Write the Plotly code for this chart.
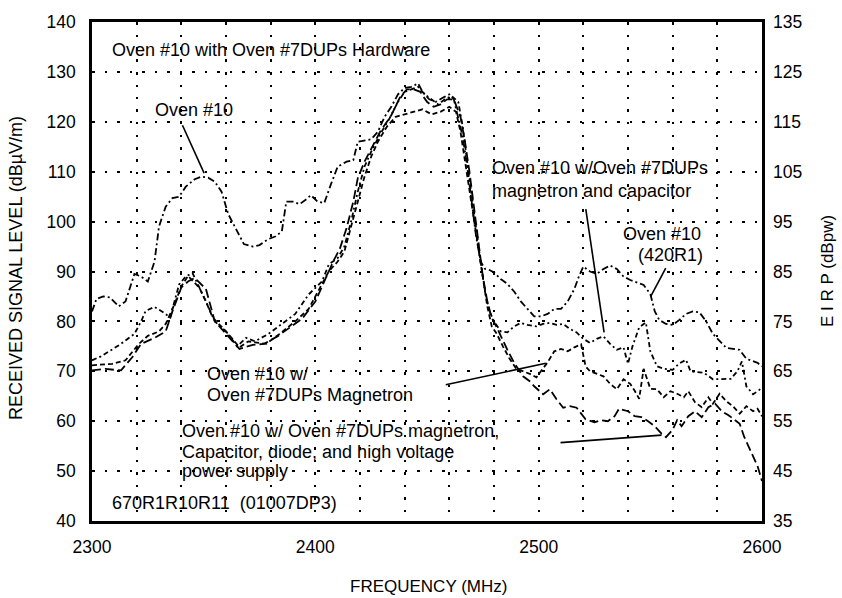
import plotly.graph_objects as go

# ---- Measured field strength vs. frequency (dBuV/m) ----
# Oven #10 alone
freq_oven10 = [2300, 2302, 2305, 2308, 2312, 2315, 2319, 2322, 2325, 2328,
               2330, 2333, 2336, 2339, 2342, 2346, 2349, 2352, 2355, 2358,
               2361, 2364, 2368, 2372, 2375, 2379, 2382, 2385, 2387, 2390,
               2393, 2396, 2398, 2401, 2404, 2407, 2410, 2414, 2417, 2419,
               2422, 2425, 2428, 2431, 2434, 2437, 2440, 2443, 2446, 2448,
               2451, 2454, 2457, 2460, 2462, 2464, 2466, 2468, 2470, 2472,
               2474, 2476, 2478, 2480, 2483, 2486, 2489, 2492, 2495, 2498,
               2501, 2504, 2507, 2510, 2513, 2516, 2518, 2520, 2523, 2526,
               2529, 2532, 2535, 2538, 2541, 2544, 2547, 2550, 2552, 2554,
               2557, 2560, 2563, 2566, 2569, 2572, 2575, 2578, 2581, 2584,
               2587, 2590, 2593, 2596, 2598, 2600]
level_oven10 = [82.0, 84.5, 85.0, 84.8, 83.0, 84.0, 89.5, 89.0, 88.0, 92.0,
                99.0, 103.0, 104.7, 105.0, 107.0, 108.5, 109.0, 108.8, 108.0, 106.0,
                101.5, 99.0, 95.5, 95.0, 95.3, 96.5, 97.0, 98.0, 104.0, 104.0,
                103.5, 104.5, 105.3, 104.0, 103.7, 107.5, 111.0, 112.0, 112.3, 116.0,
                116.3, 116.5, 118.0, 121.0, 123.0, 125.5, 126.8, 127.0, 127.7, 126.0,
                124.5, 124.0, 124.8, 125.5, 124.5, 121.0, 117.0, 111.0, 104.0, 97.0,
                92.0, 90.5, 90.3, 89.8, 88.5, 87.5, 86.0, 84.0, 82.5, 81.0,
                81.0, 81.5, 82.5, 82.5, 84.0, 86.5, 89.0, 91.0, 90.0, 89.5,
                90.5, 91.2, 90.5, 89.0, 88.3, 87.8, 87.3, 85.5, 82.0, 80.3,
                79.5, 79.3, 80.3, 81.5, 82.0, 81.8, 80.0, 77.5, 76.0, 74.7,
                74.5, 74.3, 72.5, 72.0, 71.7, 71.0]

# Oven #10 with Oven #7DUPs magnetron and capacitor
freq_mag_cap = [2300, 2304, 2308, 2313, 2319, 2322, 2324, 2328, 2332, 2335,
                2339, 2342, 2345, 2348, 2351, 2355, 2360, 2365, 2369, 2373,
                2379, 2385, 2391, 2397, 2403, 2406, 2410, 2413, 2416, 2419,
                2422, 2425, 2429, 2433, 2437, 2440, 2443, 2446, 2449, 2452,
                2455, 2458, 2461, 2464, 2466, 2468, 2470, 2472, 2474, 2476,
                2478, 2480, 2483, 2486, 2489, 2492, 2495, 2499, 2502, 2505,
                2508, 2511, 2514, 2517, 2520, 2523, 2526, 2529, 2532, 2535,
                2538, 2540, 2542, 2545, 2548, 2550, 2553, 2556, 2560, 2563,
                2566, 2568, 2571, 2574, 2578, 2582, 2586, 2589, 2591, 2593,
                2596, 2598, 2600]
level_mag_cap = [72.2, 73.0, 74.1, 75.5, 77.5, 80.0, 82.1, 82.9, 81.8, 80.8,
                 87.4, 89.0, 89.7, 87.0, 84.0, 80.0, 78.0, 75.0, 76.7, 76.0,
                 77.5, 79.5, 81.5, 85.4, 88.0, 91.4, 92.7, 95.0, 100.0, 106.0,
                 111.0, 114.0, 117.5, 120.5, 124.0, 126.0, 126.5, 127.0, 125.5, 124.5,
                 123.5, 124.5, 125.2, 124.0, 119.0, 112.0, 105.0, 99.0, 92.0, 86.0,
                 82.0, 80.0, 78.0, 77.8, 79.0, 79.7, 79.3, 79.0, 79.5, 79.7,
                 79.3, 79.5, 78.5, 77.8, 76.5, 75.7, 76.5, 77.0, 75.5, 74.3,
                 74.8, 71.5, 75.0, 78.8, 79.8, 74.0, 71.0, 70.5, 70.3, 71.6,
                 72.3, 70.0, 69.8, 69.7, 68.4, 68.5, 68.5, 70.0, 72.0, 67.0,
                 65.4, 66.0, 66.7]

# Oven #10 with Oven #7DUPs magnetron
freq_mag = [2300, 2305, 2309, 2315, 2321, 2325, 2330, 2333, 2337, 2340,
            2343, 2348, 2351, 2354, 2358, 2361, 2366, 2370, 2373, 2378,
            2384, 2391, 2397, 2402, 2406, 2410, 2413, 2416, 2419, 2422,
            2425, 2428, 2432, 2436, 2440, 2444, 2448, 2452, 2456, 2460,
            2463, 2465, 2467, 2469, 2471, 2473, 2475, 2477, 2479, 2481,
            2484, 2487, 2490, 2493, 2496, 2499, 2502, 2504, 2507, 2510,
            2513, 2516, 2519, 2521, 2523, 2526, 2529, 2532, 2535, 2538,
            2541, 2543, 2545, 2547, 2550, 2553, 2556, 2559, 2562, 2565,
            2567, 2570, 2573, 2576, 2578, 2581, 2584, 2587, 2590, 2593,
            2596, 2598, 2600]
level_mag = [71.2, 71.3, 71.5, 72.2, 75.5, 77.1, 78.0, 79.5, 83.5, 87.0,
             89.1, 86.8, 84.0, 80.8, 79.0, 77.5, 74.8, 76.0, 75.8, 75.5,
             77.5, 80.0, 82.5, 86.5, 90.0, 92.0, 94.0, 99.0, 104.0, 109.0,
             113.0, 116.0, 119.0, 121.0, 121.5, 122.0, 122.5, 121.5, 122.0, 123.0,
             122.0, 118.0, 112.0, 106.0, 100.0, 94.0, 88.0, 83.0, 79.0, 77.7,
             75.0, 72.5, 70.5, 70.0, 69.5, 68.8, 70.5, 71.8, 74.0, 74.5,
             74.0, 74.8, 75.4, 71.0, 70.0, 69.5, 69.0, 67.5, 66.4, 68.4,
             67.5, 66.1, 64.5, 70.5, 66.5, 66.4, 64.8, 66.0, 65.5, 64.8,
             66.0, 63.8, 62.8, 64.8, 63.5, 65.5, 64.0, 63.0, 61.5, 63.0,
             62.0, 62.5, 61.0]

# Oven #10 with Oven #7DUPs magnetron, capacitor, diode and HV supply
freq_full = [2300, 2303, 2306, 2310, 2313, 2318, 2322, 2328, 2333, 2336,
             2340, 2343, 2346, 2351, 2355, 2361, 2366, 2372, 2377, 2383,
             2389, 2394, 2400, 2404, 2408, 2411, 2414, 2417, 2419, 2422,
             2425, 2429, 2434, 2438, 2441, 2444, 2447, 2450, 2453, 2456,
             2459, 2462, 2465, 2467, 2469, 2471, 2473, 2475, 2477, 2479,
             2481, 2483, 2486, 2489, 2491, 2493, 2496, 2498, 2502, 2505,
             2508, 2511, 2514, 2517, 2521, 2525, 2528, 2531, 2534, 2536,
             2540, 2543, 2546, 2549, 2552, 2555, 2557, 2560, 2562, 2564,
             2567, 2570, 2573, 2576, 2579, 2582, 2585, 2587, 2590, 2592,
             2594, 2596, 2598, 2599, 2600]
level_full = [70.2, 70.4, 70.5, 70.3, 70.2, 72.8, 75.5, 76.7, 78.0, 82.0,
              86.8, 88.0, 88.7, 86.5, 80.0, 77.0, 74.5, 75.3, 75.5, 77.0,
              79.0, 80.5, 84.0, 88.0, 92.0, 94.6, 98.7, 104.0, 108.7, 112.0,
              114.7, 118.0, 121.3, 125.0, 126.5, 126.5, 126.0, 124.0, 123.0, 123.5,
              124.5, 124.5, 121.0, 116.0, 110.0, 103.0, 96.0, 89.0, 84.0, 80.7,
              79.0, 77.0, 74.3, 71.7, 70.4, 69.0, 68.0, 67.0, 65.4, 66.4,
              64.4, 62.7, 63.0, 62.7, 60.4, 59.8, 60.2, 60.0, 61.0, 62.5,
              62.0, 61.0, 60.8, 60.0, 59.0, 57.5, 56.8, 58.3, 60.2, 59.0,
              61.0, 62.0, 60.8, 62.8, 63.5, 62.0, 61.2, 60.5, 59.5, 56.9,
              55.0, 53.0, 51.0, 49.5, 48.0]

# Axis ticks
x_ticks = [2300, 2400, 2500, 2600]
left_ticks = [40, 50, 60, 70, 80, 90, 100, 110, 120, 130, 140]
right_ticks = [35, 45, 55, 65, 75, 85, 95, 105, 115, 125, 135]

FONT = "Liberation Sans, Arial, Helvetica, sans-serif"
INK = "black"

fig = go.Figure()

series = [
    (freq_oven10, level_oven10, "7px,3px,2px,3px"),
    (freq_mag_cap, level_mag_cap, "5px,3px,2px,3px"),
    (freq_mag, level_mag, "5px,3px"),
    (freq_full, level_full, "9px,4px"),
]
for fx, fy, dash in series:
    fig.add_trace(go.Scatter(
        x=fx, y=fy, mode="lines",
        line=dict(color=INK, width=1.8, dash=dash),
        showlegend=False, hoverinfo="skip",
    ))

# empty trace so the right-hand EIRP axis is laid out
fig.add_trace(go.Scatter(x=[None], y=[None], yaxis="y2", mode="lines",
                         showlegend=False, hoverinfo="skip"))

# ---- pointer lines from labels to curves (data coordinates) ----
pointers = [
    ((2340.5, 119.3), (2350.2, 109.7)),   # Oven #10
    ((2521.1, 102.5), (2529.3, 77.8)),    # magnetron and capacitor
    ((2556.9, 90.7), (2550.2, 85.0)),     # Oven #10 (420R1)
    ((2458.4, 67.3), (2503.2, 71.6)),     # magnetron
    ((2509.8, 55.7), (2555.0, 57.2)),     # full hardware set
]
for (x0, y0), (x1, y1) in pointers:
    fig.add_shape(type="line", xref="x", yref="y", x0=x0, y0=y0, x1=x1, y1=y1,
                  line=dict(color=INK, width=1.6))

# ---- text labels (pixel positions converted to paper coords) ----
L, R, T, B, W, H = 92, 80, 18, 77, 842, 598
PW, PH = W - L - R, H - T - B


def px(xp):
    return (xp - L) / PW


def py(yp):
    return (H - B - yp) / PH


labels = [
    ("Oven #10 with Oven #7DUPs Hardware", 110, 46, "left"),
    ("Oven #10", 153, 107, "left"),
    ("Oven #10 w/Oven #7DUPs", 490, 165, "left"),
    ("magnetron and capacitor", 490, 188, "left"),
    ("Oven #10", 703, 232, "right"),
    ("(420R1)", 705, 253, "right"),
    ("Oven #10 w/", 205, 373, "left"),
    ("Oven #7DUPs Magnetron", 205, 394, "left"),
    ("Oven #10 w/ Oven #7DUPs magnetron,", 180, 430, "left"),
    ("Capacitor, diode, and high voltage", 180, 451, "left"),
    ("power supply", 180, 471, "left"),
    ("670R1R10R11  (01007DP3)", 110, 503, "left"),
]
for text, xp, yp, anchor in labels:
    fig.add_annotation(text=text, xref="paper", yref="paper",
                       x=px(xp), y=py(yp), xanchor=anchor, yanchor="middle",
                       showarrow=False, font=dict(family=FONT, size=18, color=INK))

# axis titles
fig.add_annotation(text="FREQUENCY (MHz)", xref="paper", yref="paper",
                   x=px(428), y=py(587), xanchor="center", yanchor="middle",
                   showarrow=False, font=dict(family=FONT, size=17, color=INK))
fig.add_annotation(text="RECEIVED SIGNAL LEVEL (dBµV/m)", xref="paper", yref="paper",
                   x=px(16), y=py(266), xanchor="center", yanchor="middle",
                   textangle=-90, showarrow=False,
                   font=dict(family=FONT, size=18, color=INK))
fig.add_annotation(text="E I R P (dBpw)", xref="paper", yref="paper",
                   x=px(827), y=py(269), xanchor="center", yanchor="middle",
                   textangle=-90, showarrow=False,
                   font=dict(family=FONT, size=17, color=INK))

GRID_DASH = "2.5px,10px"

fig.update_layout(
    width=W, height=H,
    margin=dict(l=L, r=R, t=T, b=B, pad=0),
    paper_bgcolor="white", plot_bgcolor="white",
    font=dict(family=FONT, size=17, color=INK),
    xaxis=dict(
        range=[2300, 2600], tickvals=x_ticks, ticktext=[str(v) for v in x_ticks],
        showgrid=True, gridcolor=INK, gridwidth=1.6, griddash=GRID_DASH,
        minor=dict(dtick=20, tick0=2300, showgrid=True, gridcolor=INK,
                   gridwidth=1.6, griddash=GRID_DASH),
        showline=True, linecolor=INK, linewidth=2.6, mirror=True,
        ticks="", zeroline=False, ticklabelstandoff=8,
        tickfont=dict(family=FONT, size=17.5, color=INK),
    ),
    yaxis=dict(
        range=[40, 140], tickvals=left_ticks,
        showgrid=True, gridcolor=INK, gridwidth=1.6, griddash=GRID_DASH,
        showline=True, linecolor=INK, linewidth=2.6, mirror=True,
        ticks="", zeroline=False, ticklabelstandoff=10,
        tickfont=dict(family=FONT, size=17.5, color=INK),
    ),
    yaxis2=dict(
        range=[35, 135], tickvals=right_ticks, overlaying="y", side="right",
        showgrid=False, showline=False, ticks="", zeroline=False,
        ticklabelstandoff=10,
        tickfont=dict(family=FONT, size=17.5, color=INK),
    ),
)

fig.write_html("out.html")
